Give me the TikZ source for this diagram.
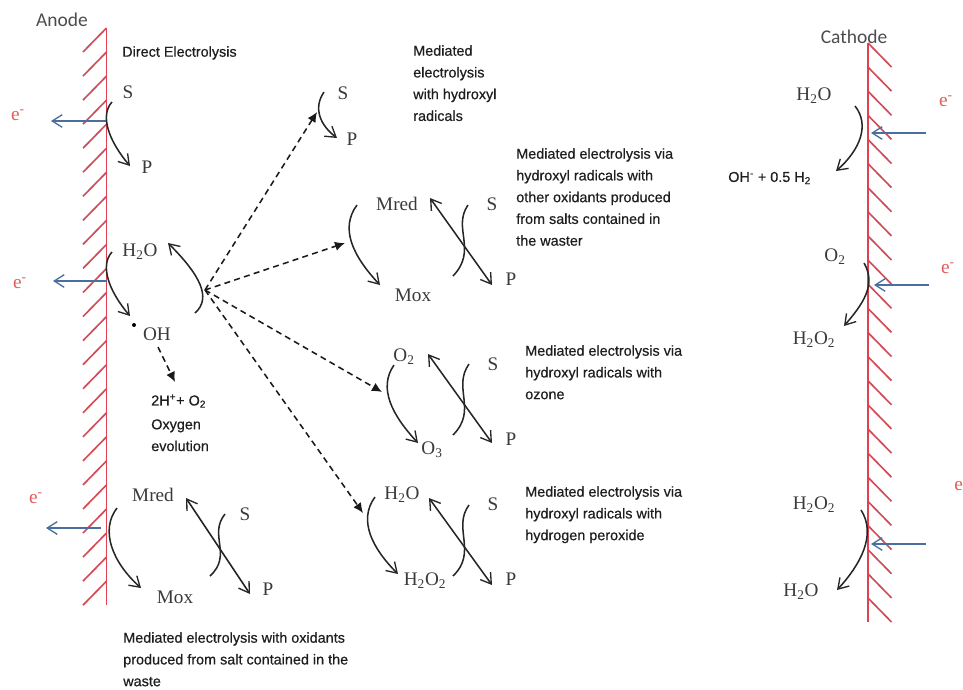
\documentclass[tikz,border=0pt]{standalone}
\usepackage{fontspec}
\setmainfont{Liberation Serif}
\setsansfont[FakeBold=0.5]{Liberation Sans}
\newfontfamily\calib{Carlito}
\usetikzlibrary{arrows.meta}
\definecolor{wallred}{HTML}{E2404E}
\definecolor{hatchred}{HTML}{D04C58}
\definecolor{eblue}{HTML}{4A6E9E}
\definecolor{chem}{HTML}{3A3A3A}
\definecolor{cap}{HTML}{1E1E1E}
\definecolor{elecred}{HTML}{DE5C5C}
\tikzset{
  chemlabel/.style={font=\fontsize{14.4pt}{16pt}\selectfont,text=chem,inner sep=0pt},
  caption/.style={font=\sffamily\fontsize{10.8pt}{16.3pt}\selectfont,text=cap,inner sep=0pt,align=left,anchor=north west},
  elec/.style={font=\fontsize{14.5pt}{16pt}\selectfont,text=elecred,inner sep=0pt},
  electrode/.style={font=\calib\fontsize{14.6pt}{16pt}\selectfont,text=black!70,inner sep=0pt},
  wall/.style={draw=wallred,line width=1.4pt},
  hatch/.style={draw=hatchred,line width=1.25pt},
  barb/.style={Straight Barb[length=7.5pt,width=9.5pt,line width=1pt]},
  react/.style={draw=black!85,line width=1.15pt,-{Straight Barb[length=7.5pt,width=9.5pt,line width=1pt]}},
  plain/.style={draw=black!85,line width=1.15pt},
  both/.style={draw=black!85,line width=1.15pt,{Straight Barb[length=7.5pt,width=9.5pt,line width=1pt]}-{Straight Barb[length=7.5pt,width=9.5pt,line width=1pt]}},
  eflow/.style={draw=eblue,line width=1.1pt,-{Straight Barb[length=7.5pt,width=9.5pt,line width=1pt]}},
  mediate/.style={draw=black!90,line width=1.15pt,dash pattern=on 4.5pt off 3.2pt,-{Latex[length=7.5pt,width=7pt]}}
}
% curve between two named end points
\newcommand{\rcurve}[6]{%
  \coordinate (#2-a) at (#3);\coordinate (#2-b) at (#6);
  \draw[#1] (#2-a) .. controls (#4) and (#5) .. (#2-b);}
\newcommand{\rline}[4]{%
  \coordinate (#2-a) at (#3);\coordinate (#2-b) at (#4);
  \draw[#1] (#2-a) -- (#2-b);}
\begin{document}
\begin{tikzpicture}[x=0.75pt,y=-0.75pt]
\useasboundingbox (0,0) rectangle (963,689);
% electrodes
\foreach \i in {0,...,23}{\draw[hatch] (106.5,28+\i*24.05) -- ++(-23.5,24);}
\foreach \i in {0,...,23}{\draw[hatch] (868,43+\i*24.13) -- ++(23.5,24);}
\coordinate (anT) at (106.5,28);\coordinate (anB) at (106.5,605);
\coordinate (caT) at (868,43);\coordinate (caB) at (868,622);
\draw[wall] (anT) -- (anB);
\draw[wall] (caT) -- (caB);
% titles
\node[electrode] (anode) at (62,20) {Anode};
\node[electrode] (cathode) at (854,37) {Cathode};
% captions
\node[caption] (t1) at (122,46) {Direct Electrolysis};
\node[caption] (t2) at (413,45) {Mediated\\electrolysis\\with hydroxyl\\radicals};
\node[caption] (t3) at (516,148) {Mediated electrolysis via\\hydroxyl radicals with\\other oxidants produced\\from salts contained in\\the waster};
\node[caption] (t4) at (525,345) {Mediated electrolysis via\\hydroxyl radicals with\\ozone};
\node[caption] (t5) at (525,486) {Mediated electrolysis via\\hydroxyl radicals with\\hydrogen peroxide};
\node[caption] (t6) at (123,632) {Mediated electrolysis with oxidants\\produced from salt contained in the\\waste};
\node[caption] (t7) at (151,419) {Oxygen\\evolution};
\node[caption,anchor=west] (t8) at (151,401) {2H\textsuperscript{+}+ O\textsubscript{2}};
\node[caption,anchor=west] (t9) at (728,178) {OH\textsuperscript{-} + 0.5 H\textsubscript{2}};
% electrons
\node[elec] (e1) at (18,115) {e\textsuperscript{-}};
\node[elec] (e2) at (20,283) {e\textsuperscript{-}};
\node[elec] (e3) at (36,498) {e\textsuperscript{-}};
\node[elec] (e4) at (946,101) {e\textsuperscript{-}};
\node[elec] (e5) at (948,268) {e\textsuperscript{-}};
\node[elec,anchor=west] (e6) at (954,486) {e};
\rline{eflow}{f1}{106,121}{51,121}
\rline{eflow}{f2}{107,281}{53,281}
\rline{eflow}{f3}{101,528}{46,528}
\rline{eflow}{f4}{926,133}{871,133}
\rline{eflow}{f5}{929,285}{874,285}
\rline{eflow}{f6}{926,544}{871,544}
% species, anode side
\node[chemlabel] (s1) at (128,92) {S};
\node[chemlabel] (p1) at (147,167) {P};
\node[chemlabel] (w1) at (140,252) {H\textsubscript{2}O};
\node[chemlabel] (oh) at (157,334) {OH};
\node[circle,fill=black,inner sep=0pt,minimum size=3pt] (dot) at (134,325) {};
\node[chemlabel] (m1) at (153,495) {Mred};
\node[chemlabel] (x1) at (175,597) {Mox};
\node[chemlabel] (s2) at (245,514) {S};
\node[chemlabel] (p2) at (268,589) {P};
% species, centre
\node[chemlabel] (s3) at (343,93) {S};
\node[chemlabel] (p3) at (352,139) {P};
\node[chemlabel] (m2) at (397,204) {Mred};
\node[chemlabel] (s4) at (492,204) {S};
\node[chemlabel] (p4) at (511,279) {P};
\node[chemlabel] (x2) at (413,295) {Mox};
\node[chemlabel] (o2) at (404,357) {O\textsubscript{2}};
\node[chemlabel] (s5) at (493,364) {S};
\node[chemlabel] (p5) at (511,439) {P};
\node[chemlabel] (o3) at (432,450) {O\textsubscript{3}};
\node[chemlabel] (w2) at (402,495) {H\textsubscript{2}O};
\node[chemlabel] (s6) at (493,504) {S};
\node[chemlabel] (p6) at (511,579) {P};
\node[chemlabel] (h1) at (425,581) {H\textsubscript{2}O\textsubscript{2}};
% species, cathode side
\node[chemlabel] (w3) at (814,96) {H\textsubscript{2}O};
\node[chemlabel] (o4) at (835,257) {O\textsubscript{2}};
\node[chemlabel] (h2) at (814,340) {H\textsubscript{2}O\textsubscript{2}};
\node[chemlabel] (h3) at (814,505) {H\textsubscript{2}O\textsubscript{2}};
\node[chemlabel] (w4) at (801,592) {H\textsubscript{2}O};
% reaction curves
\rcurve{react}{r1}{112,102}{100,115}{108,140}{130,166}
\rcurve{react}{r2}{112,252}{100,265}{108,290}{130,316}
\rcurve{react}{r3}{195,313}{212,298}{200,275}{168,243}
\rcurve{react}{r4}{117,508}{100,530}{112,562}{141,588}
\rcurve{react}{r5}{324,92}{313,108}{320,125}{337,138}
\rcurve{react}{r6}{357,205}{340,228}{352,255}{380,285}
\rcurve{react}{r7}{394,365}{378,388}{392,415}{418,443}
\rcurve{react}{r8}{375,497}{358,520}{372,548}{398,574}
\rcurve{react}{r9}{855,106}{870,125}{860,150}{836,171}
\rcurve{react}{r10}{864,263}{877,285}{862,305}{844,326}
\rcurve{react}{r11}{861,510}{877,535}{860,565}{837,590}
% crossing pairs
\rcurve{plain}{c1}{225,514}{208,535}{233,555}{210,576}
\rcurve{plain}{c2}{468,205}{452,228}{478,250}{453,276}
\rcurve{plain}{c3}{469,364}{452,388}{478,410}{453,435}
\rcurve{plain}{c4}{469,505}{452,528}{478,552}{453,576}
\rline{both}{d1}{186,498}{250,594}
\rline{both}{d2}{430,198}{492,285}
\rline{both}{d3}{428,354}{492,443}
\rline{both}{d4}{429,498}{492,585}
% mediated (dashed)
\coordinate (hub) at (205,290);
\coordinate (t-a) at (317,112);
\coordinate (t-b) at (345,243);
\coordinate (t-c) at (382,392);
\coordinate (t-d) at (363,513);
\draw[mediate] (hub) -- (t-a);
\draw[mediate] (hub) -- (t-b);
\draw[mediate] (hub) -- (t-c);
\draw[mediate] (hub) -- (t-d);
\rline{mediate}{o}{158,347}{175,382}
\end{tikzpicture}
\end{document}
